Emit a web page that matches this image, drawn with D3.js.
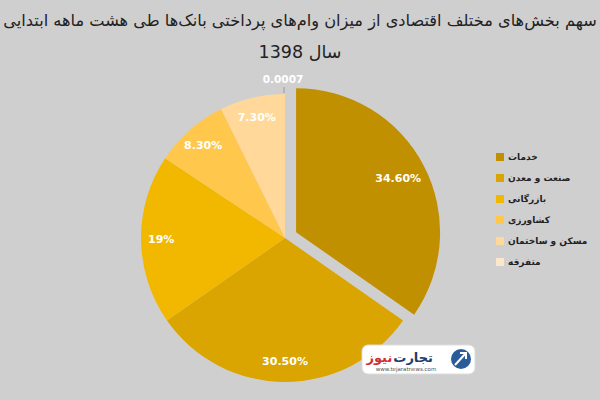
<!DOCTYPE html>
<html><head><meta charset="utf-8">
<script src="https://cdn.jsdelivr.net/npm/d3@7"></script>
<style>
html,body{margin:0;padding:0;background:#D0CFD0;}
svg{display:block;}
</style></head>
<body>
<script>
const categories = ["خدمات","صنعت و معدن","بازرگانی","کشاورزی","مسکن و ساختمان","متفرقه"];
const values = [34.6, 30.5, 19, 8.3, 7.3, 0.0007];
const labels = ["34.60%","30.50%","19%","8.30%","7.30%","0.0007"];
const colors = ["#C09000","#DAA500","#F2B800","#FFC84C","#FFD89A","#FBE8CC"];
const titleLines = ["سهم بخش‌های مختلف اقتصادی از میزان وام‌های پرداختی بانک‌ها طی هشت ماهه ابتدایی","سال 1398"];

const W=600,H=400;
const svg=d3.select("body").append("svg").attr("width",W).attr("height",H);
svg.append("rect").attr("width",W).attr("height",H).attr("fill","#D0CFD0");

const font="'DejaVu Sans', 'Noto Sans', sans-serif";
const t1=svg.append("text").attr("x",300).attr("y",26).attr("text-anchor","middle")
  .attr("direction","rtl").attr("font-family",font).attr("font-size",17.5).attr("fill","#222")
  .text(titleLines[0]);
const w1=t1.node().getComputedTextLength();
if(w1>594) t1.attr("font-size",17.5*594/w1);
svg.append("text").attr("x",300).attr("y",58).attr("text-anchor","middle")
  .attr("direction","rtl").attr("font-family",font).attr("font-size",17.5).attr("fill","#222")
  .text(titleLines[1]);

const cx=285, cy=238, R=144;
const pie=d3.pie().sort(null).value(d=>d)(values);
const arc=d3.arc().innerRadius(0).outerRadius(R);
const g=svg.append("g").attr("transform",`translate(${cx},${cy})`);
const explode=[12.5,0,0,0,0,0];
pie.forEach((p,i)=>{
  const a=(p.startAngle+p.endAngle)/2;
  const dx=Math.sin(a)*explode[i], dy=-Math.cos(a)*explode[i];
  g.append("path").attr("d",arc(p)).attr("fill",colors[i])
   .attr("transform",`translate(${dx},${dy})`);
  if(i<5){
    const rr=R*(i===0?0.8:0.86);
    g.append("text").attr("x",dx+Math.sin(a)*rr).attr("y",dy-Math.cos(a)*rr)
     .attr("text-anchor","middle").attr("dominant-baseline","central")
     .attr("font-family",font).attr("font-weight","bold").attr("font-size",11)
     .attr("fill","#fff").text(labels[i]);
  } else {
    g.append("line").attr("x1",-1).attr("x2",-1).attr("y1",-R-1).attr("y2",-R-7)
     .attr("stroke","#999").attr("stroke-width",1);
    g.append("text").attr("x",-2).attr("y",-R-15)
     .attr("text-anchor","middle").attr("dominant-baseline","central")
     .attr("font-family",font).attr("font-weight","bold").attr("font-size",10.5)
     .attr("fill","#fff").text(labels[i]);
  }
});

// legend
const lg=svg.append("g");
categories.forEach((c,i)=>{
  const y=157+i*21;
  lg.append("rect").attr("x",496).attr("y",y-4).attr("width",8).attr("height",8).attr("fill",colors[i]);
  lg.append("text").attr("x",508).attr("y",y).attr("dominant-baseline","central")
   .attr("direction","ltr").attr("unicode-bidi","plaintext")
   .attr("font-family",font).attr("font-weight","bold").attr("font-size",9).attr("fill","#222").text(c);
});

// watermark logo
const wm=svg.append("g");
wm.append("rect").attr("x",362).attr("y",345).attr("width",113).attr("height",29).attr("rx",6).attr("fill","#fff").attr("stroke","#ddd");
wm.append("circle").attr("cx",461).attr("cy",359).attr("r",10).attr("fill","#2A5C9A");
wm.append("path").attr("d","M455,365 L466,353 M460,353 L466,353 L466,359").attr("stroke","#fff").attr("stroke-width",2).attr("fill","none");
wm.append("text").attr("x",433).attr("y",362).attr("text-anchor","end").attr("direction","ltr").attr("font-family",font)
  .attr("font-weight","bold").attr("font-size",13).attr("fill","#1F3D6B").text("تجارت")
  .each(function(){
    const w=this.getComputedTextLength();
    wm.append("text").attr("x",433-w-1).attr("y",362).attr("text-anchor","end").attr("direction","ltr").attr("font-family",font)
      .attr("font-weight","bold").attr("font-size",13).attr("fill","#D32F2F").text("نیوز");
  });
wm.append("text").attr("x",406).attr("y",371).attr("text-anchor","middle").attr("font-family",font)
  .attr("font-size",5.5).attr("fill","#555").text("www.tejaratnews.com");
</script>
</body></html>
